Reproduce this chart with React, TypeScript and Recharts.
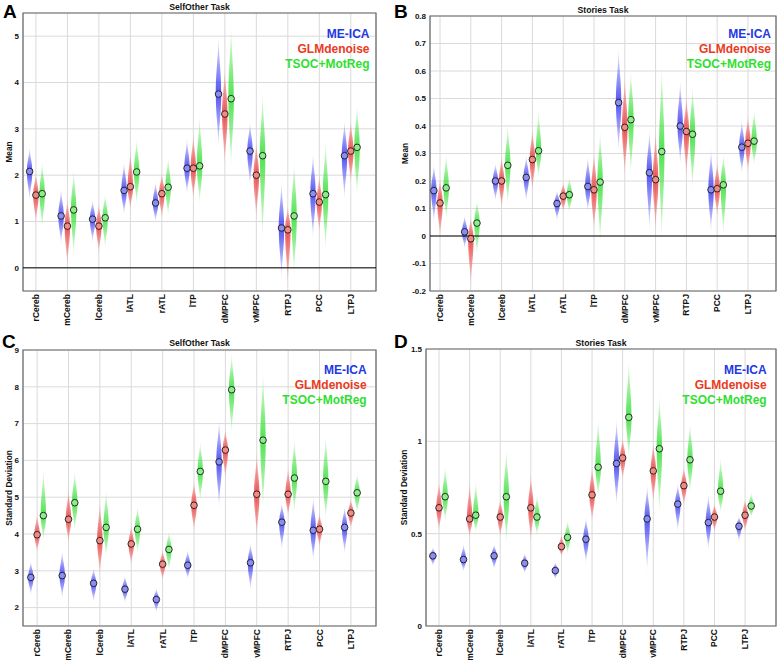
import React from 'react';
import { ComposedChart, XAxis, YAxis, CartesianGrid, Bar, Scatter, ReferenceLine, ReferenceArea, Label } from 'recharts';

const categories = ['rCereb', 'mCereb', 'lCereb', 'lATL', 'rATL', 'lTP', 'dMPFC', 'vMPFC', 'RTPJ', 'PCC', 'LTPJ'];
const methods = ['ME-ICA', 'GLMdenoise', 'TSOC+MotReg'];
const legendColors = ['#2238e4', '#ea3a22', '#2fe02f'];
const spindleColors = ['#3a3af2', '#ec3a3a', '#36e036'];
const markerColors = ['#8b8df2', '#ee8b87', '#8bee8b'];
const categoryPositions = [1, 2, 3, 4, 5, 6, 7, 8, 9, 10, 11];

// each entry: [low, mean, high] per category
const selfOtherMeanMEICA = [[1.4, 2.08, 2.65], [0.45, 1.12, 1.75], [0.5, 1.05, 1.5], [1.1, 1.67, 2.35], [0.95, 1.4, 1.9], [1.55, 2.15, 2.85], [2.5, 3.75, 5.1], [1.7, 2.52, 3.2], [-0.35, 0.86, 1.95], [0.55, 1.6, 2.55], [1.4, 2.42, 3.25]];
const selfOtherMeanGLM = [[0.9, 1.57, 2.1], [-0.05, 0.9, 1.55], [0.25, 0.9, 1.45], [1.2, 1.75, 2.6], [1.0, 1.6, 2.1], [1.4, 2.15, 2.95], [2.1, 3.32, 4.4], [0.95, 2.0, 2.8], [-0.5, 0.82, 1.4], [0.7, 1.42, 2.05], [1.75, 2.52, 3.25]];
const selfOtherMeanTSOC = [[0.8, 1.6, 2.35], [0.15, 1.25, 2.2], [0.35, 1.08, 1.65], [1.3, 2.07, 2.85], [1.05, 1.74, 2.45], [1.3, 2.2, 3.4], [2.0, 3.65, 5.4], [0.4, 2.42, 3.9], [-0.3, 1.12, 2.4], [0.25, 1.58, 2.85], [1.45, 2.6, 3.6]];

const storiesMeanMEICA = [[0.04, 0.165, 0.27], [-0.05, 0.015, 0.08], [0.12, 0.2, 0.27], [0.12, 0.213, 0.3], [0.05, 0.118, 0.17], [0.08, 0.18, 0.3], [0.29, 0.485, 0.7], [0.0, 0.23, 0.4], [0.25, 0.4, 0.58], [0.0, 0.168, 0.33], [0.22, 0.323, 0.43]];
const storiesMeanGLM = [[-0.02, 0.12, 0.22], [-0.2, -0.01, 0.08], [0.09, 0.2, 0.3], [0.15, 0.278, 0.4], [0.08, 0.145, 0.2], [0.0, 0.168, 0.32], [0.2, 0.395, 0.6], [0.0, 0.205, 0.4], [0.2, 0.38, 0.52], [0.06, 0.172, 0.28], [0.22, 0.337, 0.45]];
const storiesMeanTSOC = [[0.05, 0.175, 0.31], [-0.08, 0.047, 0.14], [0.1, 0.257, 0.42], [0.2, 0.31, 0.47], [0.08, 0.15, 0.22], [-0.05, 0.196, 0.4], [0.2, 0.423, 0.62], [-0.05, 0.307, 0.65], [0.15, 0.37, 0.56], [-0.02, 0.186, 0.31], [0.25, 0.345, 0.47]];

const selfOtherSdMEICA = [[2.3, 2.82, 3.3], [2.2, 2.87, 3.6], [2.1, 2.66, 3.1], [2.1, 2.5, 2.9], [1.85, 2.22, 2.55], [2.75, 3.15, 3.6], [4.6, 5.96, 7.2], [2.4, 3.22, 3.8], [3.5, 4.32, 4.9], [3.2, 4.1, 5.1], [3.4, 4.18, 4.8]];
const selfOtherSdGLM = [[3.45, 3.98, 4.6], [3.7, 4.4, 5.3], [2.8, 3.82, 5.0], [3.1, 3.73, 4.3], [2.7, 3.18, 3.6], [4.0, 4.78, 5.5], [5.4, 6.28, 6.9], [3.8, 5.08, 6.3], [4.4, 5.08, 5.9], [3.6, 4.13, 4.6], [4.1, 4.57, 5.0]];
const selfOtherSdTSOC = [[3.75, 4.5, 5.9], [4.0, 4.85, 5.8], [3.3, 4.18, 5.3], [3.4, 4.13, 4.8], [2.95, 3.58, 4.1], [4.8, 5.7, 6.6], [6.6, 7.92, 9.0], [4.4, 6.55, 8.6], [4.5, 5.52, 6.7], [4.3, 5.43, 6.8], [4.5, 5.12, 5.7]];

const storiesSdMEICA = [[0.32, 0.38, 0.43], [0.29, 0.36, 0.45], [0.3, 0.38, 0.45], [0.28, 0.34, 0.4], [0.25, 0.3, 0.35], [0.33, 0.47, 0.6], [0.63, 0.88, 1.14], [0.27, 0.58, 0.78], [0.5, 0.66, 0.78], [0.4, 0.56, 0.73], [0.45, 0.54, 0.6]];
const storiesSdGLM = [[0.5, 0.64, 0.8], [0.47, 0.58, 0.8], [0.47, 0.59, 0.7], [0.44, 0.64, 0.84], [0.37, 0.43, 0.5], [0.55, 0.71, 0.88], [0.78, 0.91, 1.03], [0.65, 0.84, 1.01], [0.64, 0.76, 0.87], [0.5, 0.59, 0.67], [0.5, 0.6, 0.7]];
const storiesSdTSOC = [[0.55, 0.7, 0.88], [0.5, 0.6, 0.8], [0.42, 0.7, 0.98], [0.48, 0.59, 0.72], [0.38, 0.48, 0.58], [0.68, 0.86, 1.15], [0.88, 1.13, 1.47], [0.57, 0.96, 1.28], [0.7, 0.9, 1.12], [0.6, 0.73, 0.93], [0.58, 0.65, 0.73]];

const ticksA = [0, 1, 2, 3, 4, 5];
const ticksB = [-0.2, -0.1, 0, 0.1, 0.2, 0.3, 0.4, 0.5, 0.6, 0.7, 0.8];
const ticksC = [2, 3, 4, 5, 6, 7, 8, 9];
const ticksD = [0, 0.5, 1, 1.5];

const FONT = '"Liberation Sans", Arial, Helvetica, sans-serif';

function buildRows(panel: string, series: number[][][]) {
  const rows: any[] = [];
  series.forEach((arr, m) => {
    arr.forEach((v, i) => {
      rows.push({ key: `${panel}-${m}-${i}`, x: i + 1 + (m - 1) * 0.2, lo: v[0], mean: v[1], hi: v[2], m });
    });
  });
  return rows;
}

const Spindle = (p: any) => {
  const { x, y, width, height, payload } = p;
  if (x == null || payload == null) return null;
  const cx = x + width / 2;
  const yT = Math.min(y, y + height);
  const yB = Math.max(y, y + height);
  const f = (payload.hi - payload.mean) / (payload.hi - payload.lo);
  const yM = yT + f * (yB - yT);
  const w = 2.7;
  const up = yM - yT;
  const dn = yB - yM;
  const d = `M ${cx} ${yT} C ${cx + 0.1} ${yT + 0.45 * up} ${cx + w} ${yM - 0.4 * up} ${cx + w} ${yM} ` +
    `C ${cx + w} ${yM + 0.4 * dn} ${cx + 0.1} ${yB - 0.45 * dn} ${cx} ${yB} ` +
    `C ${cx - 0.1} ${yB - 0.45 * dn} ${cx - w} ${yM + 0.4 * dn} ${cx - w} ${yM} ` +
    `C ${cx - w} ${yM - 0.4 * up} ${cx - 0.1} ${yT + 0.45 * up} ${cx} ${yT} Z`;
  const id = `grad-${payload.key}`;
  const c = spindleColors[payload.m];
  return (
    <g>
      <defs>
        <linearGradient id={id} x1="0" y1="0" x2="0" y2="1">
          <stop offset="0" stopColor={c} stopOpacity={0} />
          <stop offset={Math.max(0, f * 0.5)} stopColor={c} stopOpacity={0.45} />
          <stop offset={f} stopColor={c} stopOpacity={0.88} />
          <stop offset={f + (1 - f) * 0.5} stopColor={c} stopOpacity={0.45} />
          <stop offset="1" stopColor={c} stopOpacity={0} />
        </linearGradient>
      </defs>
      <path d={d} fill={`url(#${id})`} stroke="none" />
    </g>
  );
};

const Marker = (p: any) => {
  const { cx, cy, payload } = p;
  if (cx == null || cy == null) return null;
  return <circle cx={cx} cy={cy} r={3.3} fill={markerColors[payload.m]} stroke="#1a1a1a" strokeWidth={0.9} />;
};

const CatTick = (p: any) => {
  const { x, y, payload } = p;
  const tx = x;
  const ty = y;
  return (
    <text x={tx} y={ty} transform={`rotate(-90 ${tx} ${ty})`} textAnchor="end" dominantBaseline="central"
      fontFamily={FONT} fontWeight="bold" fontSize={8.5} fill="#111">
      {categories[payload.value - 1]}
    </text>
  );
};

type PanelProps = {
  id: string;
  left: number; top: number; width: number; height: number;
  marginTop: number; marginRight: number; yAxisWidth: number; xAxisHeight: number;
  xDomain: number[]; yDomain: number[]; yTicks: number[]; yLabel: string; labelOffset: number;
  zeroLine: boolean; series: number[][][];
};

const Panel = (pp: PanelProps) => {
  const data = buildRows(pp.id, pp.series);
  return (
    <div style={{ position: 'absolute', left: pp.left, top: pp.top }}>
      <ComposedChart width={pp.width} height={pp.height} data={data}
        margin={{ top: pp.marginTop, right: pp.marginRight, bottom: 0, left: 0 }}>
        <CartesianGrid stroke="#dadada" strokeWidth={1} />
        <XAxis dataKey="x" type="number" domain={pp.xDomain} ticks={categoryPositions} allowDataOverflow
          height={pp.xAxisHeight} interval={0} tickLine={false} axisLine={false} tickSize={0} tickMargin={3} tick={<CatTick />} />
        <YAxis type="number" domain={pp.yDomain} ticks={pp.yTicks} allowDataOverflow width={pp.yAxisWidth}
          interval={0} tickLine={false} axisLine={false} tickSize={2} tickMargin={2}
          tick={{ fontFamily: FONT, fontWeight: 'bold', fontSize: 8, fill: '#111' }}>
          <Label value={pp.yLabel} angle={-90} position="insideLeft" offset={pp.labelOffset}
            style={{ textAnchor: 'middle', fontFamily: FONT, fontWeight: 'bold', fontSize: 8.3, fill: '#111' }} />
        </YAxis>
        <ReferenceArea x1={pp.xDomain[0]} x2={pp.xDomain[1]} y1={pp.yDomain[0]} y2={pp.yDomain[1]}
          fill="none" fillOpacity={0} stroke="#666" strokeWidth={1.2} ifOverflow="visible" />
        {pp.zeroLine && <ReferenceLine y={0} stroke="#000" strokeWidth={1} />}
        <Bar dataKey={(d: any) => [d.lo, d.hi]} shape={<Spindle />} isAnimationActive={false} />
        <Scatter dataKey="mean" shape={<Marker />} isAnimationActive={false} />
      </ComposedChart>
    </div>
  );
};

const Legend3 = ({ x, y }: { x: number; y: number }) => (
  <g>
    {methods.map((m, i) => (
      <text key={m} x={x} y={y + i * 15} textAnchor="end" fontFamily={FONT} fontWeight="bold" fontSize={12} fill={legendColors[i]}>
        {m}
      </text>
    ))}
  </g>
);

export default function App() {
  return (
    <div style={{ position: 'absolute', left: 0, top: 0, width: 779, height: 660, background: '#fff', overflow: 'hidden' }}>
      <Panel id="A" left={0} top={0} width={390} height={330} marginTop={13} marginRight={14} yAxisWidth={23} xAxisHeight={39}
        xDomain={[0.59, 11.8]} yDomain={[-0.5, 5.5]} yTicks={ticksA} yLabel="Mean" labelOffset={9} zeroLine
        series={[selfOtherMeanMEICA, selfOtherMeanGLM, selfOtherMeanTSOC]} />
      <Panel id="B" left={390} top={0} width={389} height={330} marginTop={16} marginRight={3} yAxisWidth={40} xAxisHeight={39}
        xDomain={[0.675, 11.91]} yDomain={[-0.2, 0.8]} yTicks={ticksB} yLabel="Mean" labelOffset={15} zeroLine
        series={[storiesMeanMEICA, storiesMeanGLM, storiesMeanTSOC]} />
      <Panel id="C" left={0} top={330} width={390} height={330} marginTop={20} marginRight={14} yAxisWidth={23} xAxisHeight={34}
        xDomain={[0.55, 11.8]} yDomain={[1.5, 9]} yTicks={ticksC} yLabel="Standard Deviation" labelOffset={9} zeroLine={false}
        series={[selfOtherSdMEICA, selfOtherSdGLM, selfOtherSdTSOC]} />
      <Panel id="D" left={390} top={330} width={389} height={330} marginTop={19} marginRight={3} yAxisWidth={36} xAxisHeight={34}
        xDomain={[0.575, 12.01]} yDomain={[0, 1.5]} yTicks={ticksD} yLabel="Standard Deviation" labelOffset={14} zeroLine={false}
        series={[storiesSdMEICA, storiesSdGLM, storiesSdTSOC]} />
      <svg width={779} height={660} style={{ position: 'absolute', left: 0, top: 0, pointerEvents: 'none' }}>
        <text x={3} y={18.3} fontFamily={FONT} fontWeight="bold" fontSize={19} fill="#000">A</text>
        <text x={394} y={18.3} fontFamily={FONT} fontWeight="bold" fontSize={19} fill="#000">B</text>
        <text x={2} y={347.5} fontFamily={FONT} fontWeight="bold" fontSize={19} fill="#000">C</text>
        <text x={394} y={347.5} fontFamily={FONT} fontWeight="bold" fontSize={19} fill="#000">D</text>
        <text x={199.5} y={9.8} textAnchor="middle" fontFamily={FONT} fontWeight="bold" fontSize={8.7} fill="#111">SelfOther Task</text>
        <text x={603} y={13} textAnchor="middle" fontFamily={FONT} fontWeight="bold" fontSize={8.7} fill="#111">Stories Task</text>
        <text x={199.5} y={346} textAnchor="middle" fontFamily={FONT} fontWeight="bold" fontSize={8.7} fill="#111">SelfOther Task</text>
        <text x={601} y={346} textAnchor="middle" fontFamily={FONT} fontWeight="bold" fontSize={8.7} fill="#111">Stories Task</text>
        <Legend3 x={369.5} y={37.6} />
        <Legend3 x={771} y={37.6} />
        <Legend3 x={366.7} y={374.3} />
        <Legend3 x={766.7} y={374.3} />
      </svg>
    </div>
  );
}
